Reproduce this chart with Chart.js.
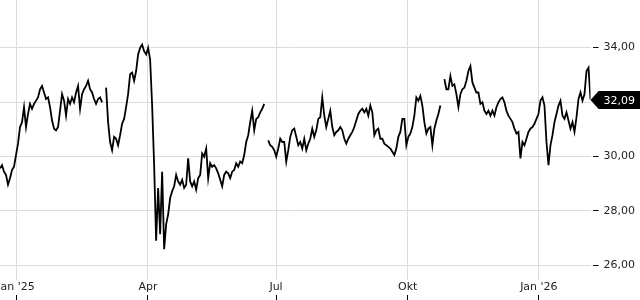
<!DOCTYPE html>
<html>
<head>
<meta charset="utf-8">
<script src="https://cdn.jsdelivr.net/npm/chart.js@4/dist/chart.umd.min.js"></script>
<style>
  html, body { margin: 0; padding: 0; background: #fff; }
  #wrap { width: 640px; height: 300px; }
</style>
</head>
<body>
<div id="wrap"><canvas id="chart" width="640" height="300"></canvas></div>
<script>
// closing prices, one sample every ~1.2 trading days, null = gap in the feed
const prices = [
    29.56, 29.68, 29.44, 29.32, 28.96, 29.20, 29.50, 29.62, 30.05, 30.47,
    31.08, 31.26, 31.81, 31.08, 31.56, 31.93, 31.75, 31.93, 32.05, 32.17,
    32.47, 32.59, 32.35, 32.11, 32.17, 31.81, 31.32, 31.02, 30.96, 31.08,
    31.68, 32.29, 32.05, 31.50, 32.11, 31.93, 32.17, 31.99, 32.35, 32.59,
    31.75, 32.29, 32.47, 32.59, 32.78, 32.47, 32.35, 32.11, 31.93, 32.11,

    32.17, 31.99, null, 32.53, 31.26, 30.53, 30.23, 30.72, 30.65, 30.41,
    30.78, 31.20, 31.38, 31.81, 32.29, 33.02, 33.08, 32.78, 33.14, 33.75,
    33.99, 34.11, 33.87, 33.75, 33.99, 33.56, 31.87, 29.68, 26.90, 28.84,
    27.14, 29.44, 26.59, 27.50, 27.87, 28.47, 28.72, 28.90, 29.32, 29.08,
    28.96, 29.14, 28.84, 28.96, 29.93, 29.08, 28.90, 29.08, 28.78, 29.20,

    29.32, 30.11, 29.99, 30.29, 29.20, 29.75, 29.62, 29.68, 29.56, 29.38,
    29.14, 28.90, 29.32, 29.44, 29.38, 29.20, 29.44, 29.50, 29.75, 29.62,
    29.81, 29.75, 30.05, 30.53, 30.78, 31.26, 31.68, 30.96, 31.38, 31.44,
    31.62, 31.75, 31.93, null, 30.59, 30.41, 30.35, 30.23, 29.99, 30.29,
    30.65, 30.53, 30.53, 29.81, 30.23, 30.72, 30.96, 31.02, 30.72, 30.41,

    30.53, 30.29, 30.65, 30.23, 30.47, 30.65, 31.02, 30.72, 30.96, 31.38,
    31.44, 32.17, 31.50, 31.08, 31.38, 31.68, 31.08, 30.78, 30.90, 30.96,
    31.08, 30.96, 30.65, 30.47, 30.65, 30.78, 30.90, 31.08, 31.32, 31.56,
    31.68, 31.75, 31.62, 31.75, 31.50, 31.87, 31.62, 30.78, 30.96, 31.02,
    30.65, 30.65, 30.47, 30.41, 30.35, 30.29, 30.17, 30.05, 30.29, 30.72,

    30.90, 31.38, 31.38, 30.41, 30.72, 30.84, 31.08, 31.50, 32.17, 32.05,
    32.23, 31.87, 31.26, 30.84, 31.02, 31.08, 30.41, 31.02, 31.32, 31.56,
    31.87, null, 32.84, 32.47, 32.47, 32.96, 32.59, 32.65, 32.29, 31.81,
    32.29, 32.47, 32.53, 32.78, 33.14, 33.32, 32.72, 32.53, 32.35, 32.35,
    31.93, 31.99, 31.68, 31.56, 31.68, 31.50, 31.68, 31.50, 31.81, 31.99,

    32.11, 32.17, 31.99, 31.68, 31.50, 31.38, 31.26, 31.02, 30.84, 30.90,
    29.93, 30.53, 30.41, 30.65, 30.90, 31.02, 31.08, 31.20, 31.38, 31.56,
    32.05, 32.17, 31.87, 30.53, 29.68, 30.41, 30.78, 31.26, 31.56, 31.87,
    32.05, 31.50, 31.38, 31.62, 31.32, 31.02, 31.26, 30.90, 31.44, 32.11,
    32.35, 32.05, 32.29, 33.14, 33.26, 32.09
];

// month starts, in sample index units
const monthTickPos = [8.0, 73.9, 137.9, 203.7, 269.2];
const monthTickLabels = ["Jan '25", 'Apr', 'Jul', 'Okt', "Jan '26"];
const priceTicks = [26, 28, 30, 32, 34];

const fmt = v => v.toFixed(2).replace('.', ',');

const noPadding = scale => {
    scale.paddingLeft = 0;
    scale.paddingRight = 0;
    scale.paddingTop = 0;
    scale.paddingBottom = 0;
};
const monthTicks = scale => {
    scale.ticks = monthTickPos.map(v => ({ value: v }));
};

const lastPriceTag = {
    id: 'lastPriceTag',
    afterDraw(chart) {
        const { ctx, chartArea, scales } = chart;
        let last = null;
        for (let i = prices.length - 1; i >= 0; i--) {
            if (prices[i] !== null) { last = prices[i]; break; }
        }
        const y = Math.round(scales.y.getPixelForValue(last));
        const x = chartArea.right;
        const h = 9;
        ctx.save();
        ctx.fillStyle = '#000';
        ctx.beginPath();
        ctx.moveTo(x, y);
        ctx.lineTo(x + 8, y - h);
        ctx.lineTo(chart.width, y - h);
        ctx.lineTo(chart.width, y + h);
        ctx.lineTo(x + 8, y + h);
        ctx.closePath();
        ctx.fill();
        ctx.fillStyle = '#fff';
        ctx.font = '11px "DejaVu Sans"';
        ctx.textBaseline = 'middle';
        ctx.textAlign = 'left';
        ctx.fillText(fmt(last), x + 13, y + 1);
        ctx.restore();
    }
};

Chart.defaults.font.family = '"DejaVu Sans", sans-serif';
Chart.defaults.font.size = 11;
Chart.defaults.color = '#222';

new Chart(document.getElementById('chart'), {
    type: 'line',
    data: {
        datasets: [{
            data: prices.map((v, i) => ({ x: i, y: v })),
            borderColor: '#000',
            borderWidth: 1.8,
            pointRadius: 0,
            tension: 0,
            spanGaps: false,
        }]
    },
    options: {
        responsive: false,
        animation: false,
        layout: { padding: 0 },
        plugins: {
            legend: { display: false },
            tooltip: { enabled: false }
        },
        scales: {
            x: {
                type: 'linear',
                position: 'bottom',
                weight: 0,
                min: 0,
                max: prices.length - 1,
                afterBuildTicks: monthTicks,
                afterFit: noPadding,
                border: { display: false },
                grid: { color: '#dcdcdc', drawTicks: false },
                ticks: {
                    padding: 3,
                    maxRotation: 0,
                    autoSkip: false,
                    font: { lineHeight: 0.8 },
                    callback: v => monthTickLabels[monthTickPos.indexOf(v)] ?? ''
                }
            },
            x2: {
                type: 'linear',
                position: 'bottom',
                weight: 1,
                min: 0,
                max: prices.length - 1,
                afterBuildTicks: monthTicks,
                afterFit: noPadding,
                border: { display: false },
                grid: { drawOnChartArea: false, drawTicks: true, tickLength: 5, tickColor: '#000' },
                ticks: { display: false }
            },
            y: {
                position: 'right',
                min: 25.45,
                max: 35.75,
                afterBuildTicks: scale => { scale.ticks = priceTicks.map(v => ({ value: v })); },
                afterFit: noPadding,
                border: { display: false },
                grid: {
                    color: '#dcdcdc',
                    tickLength: 8,
                    tickColor: '#000',
                    tickBorderDash: [0, 2, 6, 20]
                },
                ticks: {
                    padding: 5,
                    callback: v => fmt(v)
                }
            }
        }
    },
    plugins: [lastPriceTag]
});
</script>
</body>
</html>
